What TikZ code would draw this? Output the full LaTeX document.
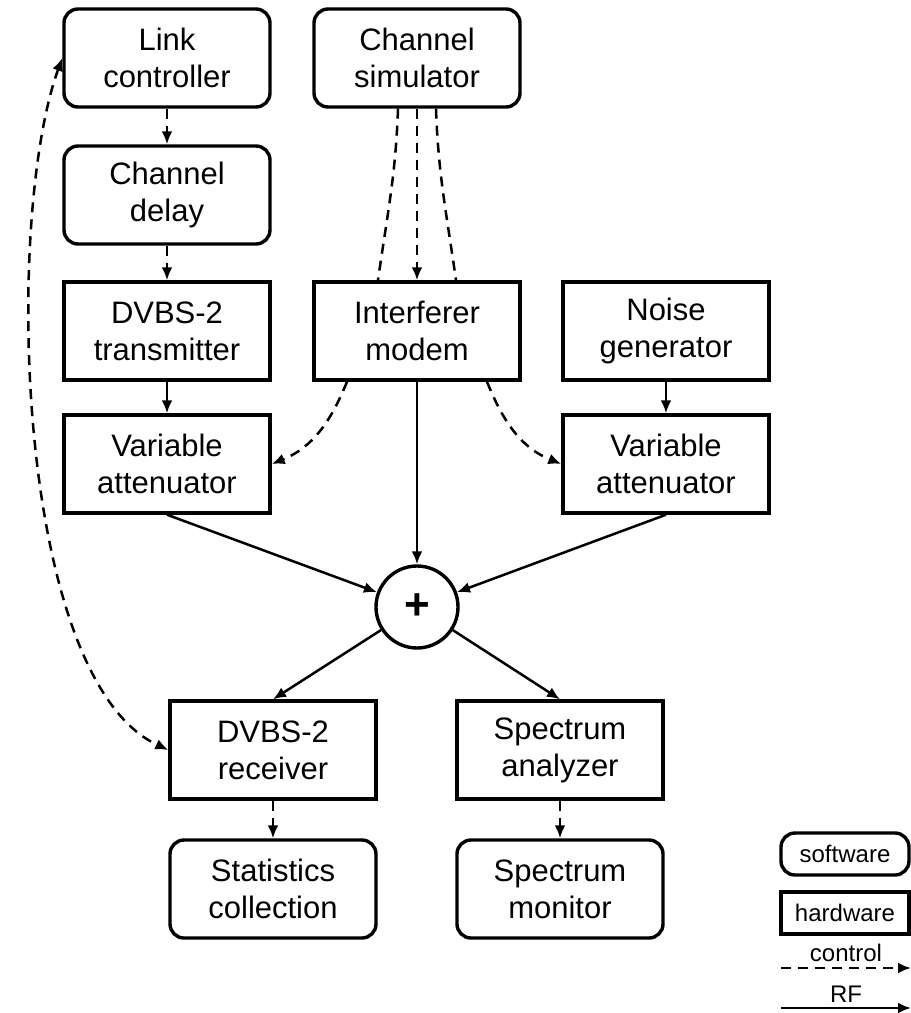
\documentclass[tikz,border=0pt]{standalone}
\usepackage{fontspec}
\setmainfont{Liberation Sans}
\usepackage{tikz}
\usetikzlibrary{shapes,arrows,positioning,calc,arrows.meta}

\tikzset{
    swbox/.style={draw, line width=1.7pt, rounded corners=7pt, align=center,
        minimum width=103pt, minimum height=49pt, inner sep=2pt,
        font=\fontsize{15.5}{18.5}\selectfont},
    hwbox/.style={swbox, sharp corners},
    sumnode/.style={draw, circle, line width=1.7pt, minimum size=41pt, inner sep=0pt,
        font=\fontsize{22}{22}\selectfont\bfseries},
    keybox/.style={swbox, minimum width=64pt, minimum height=21pt,
        font=\fontsize{12}{14}\selectfont},
    rf/.style={line width=1.25pt, -{Latex[length=6.5pt,width=5.5pt]}},
    ctrl/.style={rf, dash pattern=on 5pt off 3.5pt},
}

\begin{document}
\begin{tikzpicture}[x=0.5pt,y=0.5pt]
    \useasboundingbox (0,0) rectangle (911,-1013);

    % blocks
    \node[swbox] (link)  at (167,-58)  {Link\\controller};
    \node[swbox] (chsim) at (417,-58)  {Channel\\simulator};
    \node[swbox] (delay) at (167,-195) {Channel\\delay};
    \node[hwbox] (tx)    at (167,-331) {DVBS-2\\transmitter};
    \node[hwbox] (intf)  at (417,-331) {Interferer\\modem};
    \node[hwbox] (noise) at (666,-331) {Noise\\generator};
    \node[hwbox] (attL)  at (167,-464) {Variable\\attenuator};
    \node[hwbox] (attR)  at (666,-464) {Variable\\attenuator};
    \node[sumnode] (sum) at (417,-607) {+};
    \node[hwbox] (rx)    at (273,-750) {DVBS-2\\receiver};
    \node[hwbox] (spec)  at (560,-750) {Spectrum\\analyzer};
    \node[swbox] (stats) at (273,-889) {Statistics\\collection};
    \node[swbox] (mon)   at (560,-889) {Spectrum\\monitor};

    % control paths
    \draw[ctrl] (link) -- (delay);
    \draw[ctrl] (delay) -- (tx);
    \draw[ctrl] (chsim) -- (intf);
    \draw[ctrl, -] ($(chsim.south)+(-19,0)$) to[out=-92, in=82] ($(intf.north)+(-39,0)$);
    \draw[ctrl, -] ($(chsim.south)+(19,0)$) to[out=-88, in=98] ($(intf.north)+(39,0)$);
    \draw[ctrl] ($(intf.south)+(-70,0)$) to[out=-112, in=22] (attL.east);
    \draw[ctrl] ($(intf.south)+(70,0)$) to[out=-68, in=158] (attR.west);
    \draw[ctrl, {Latex[length=6.5pt,width=5.5pt]}-{Latex[length=6.5pt,width=5.5pt]}]
        (link.west) to[out=250, in=155, looseness=0.62] (rx.west); % feedback
    \draw[ctrl] (rx) -- (stats);
    \draw[ctrl] (spec) -- (mon);

    % RF paths
    \draw[rf] (tx) -- (attL);
    \draw[rf] (noise) -- (attR);
    \draw[rf] (intf) -- (sum);
    \draw[rf] (attL.south) -- (sum);
    \draw[rf] (attR.south) -- (sum);
    \draw[rf] (sum) -- (rx.north);
    \draw[rf] (sum) -- (spec.north);

    % legend
    \node[keybox] (ksw) at (845,-854) {software};
    \node[keybox, sharp corners] (khw) at (845,-913) {hardware};
    \coordinate (ctrlA) at (781,-968);
    \coordinate (ctrlB) at (911,-968);
    \coordinate (rfA) at (781,-1008);
    \coordinate (rfB) at (911,-1008);
    \draw[ctrl] (ctrlA) -- node[above=-1pt, font=\fontsize{12}{14}\selectfont] {control} (ctrlB);
    \draw[rf] (rfA) -- node[above=-1pt, font=\fontsize{12}{14}\selectfont] {RF} (rfB);
\end{tikzpicture}
\end{document}
